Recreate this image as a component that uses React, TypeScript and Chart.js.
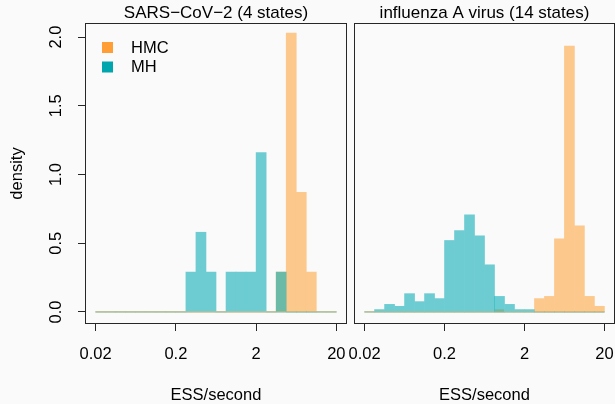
import React, { useEffect, useRef } from 'react';
import { Chart, registerables } from 'chart.js';

Chart.register(...registerables);

// ---- data -----------------------------------------------------------------
const X_MIN = 0.02; // first histogram break (ESS/second)
const X_MAX = 20; // last histogram break
const N_BINS = 24; // equal-width bins on log scale
const Y_LIMIT = 2.015; // upper y limit before R's 4% extension

const xTickValues = [0.02, 0.2, 2, 20];
const xTickLabels = ['0.02', '0.2', '2', '20'];
const yTickValues = [0, 0.5, 1, 1.5, 2];
const yTickLabels = ['0.0', '0.5', '1.0', '1.5', '2.0'];

const panelTitles = ['SARS\u2212CoV\u22122 (4 states)', 'influenza A virus (14 states)'];
const seriesNames = ['HMC', 'MH'];
const xAxisTitle = 'ESS/second';
const yAxisTitle = 'density';

// densities per bin (24 bins)
const sarsHMC = [0, 0, 0, 0, 0, 0, 0, 0, 0, 0, 0, 0, 0, 0, 0, 0, 0, 0, 0.29, 2.03, 0.87, 0.29, 0, 0];
const sarsMH = [0, 0, 0, 0, 0, 0, 0, 0, 0, 0.29, 0.58, 0.29, 0, 0.29, 0.29, 0.29, 1.16, 0, 0.29, 0, 0, 0, 0, 0];
const fluHMC = [0, 0, 0, 0, 0, 0, 0, 0, 0, 0, 0, 0, 0, 0.017, 0, 0, 0, 0.097, 0.113, 0.532, 1.935, 0.626, 0.113, 0.041];
const fluMH = [0, 0.017, 0.055, 0.041, 0.133, 0.075, 0.133, 0.097, 0.52, 0.592, 0.706, 0.554, 0.343, 0.113, 0.055, 0.017, 0.017, 0, 0, 0, 0, 0, 0, 0];

// ---- styles ---------------------------------------------------------------
const FONT = '"Liberation Sans", Arial, Helvetica, sans-serif';
const BG = '#fafafa';
const INK = '#000000';
const AXIS = '#262626';
const HMC_SOLID = 'rgb(255,158,52)';
const MH_SOLID = 'rgb(0,166,174)';
const HMC_FILL = 'rgb(252,200,140)'; // 60% orange over background
const MH_FILL = 'rgb(108,204,210)'; // 60% teal over background
const MH_FILL_ALPHA = 'rgba(10,175,185,0.6)'; // used where bars overlap

const LO = Math.log10(X_MIN);
const HI = Math.log10(X_MAX);
const BW = (HI - LO) / N_BINS;
const EXT_X = (HI - LO) * 0.04;
const EXT_Y = Y_LIMIT * 0.04;

const toPoints = (arr: number[]) => arr.map((v, k) => ({ x: LO + (k + 0.5) * BW, y: v }));

const boxPlugin = {
  id: 'rbox',
  afterDatasetsDraw(chart: any) {
    const { ctx, chartArea: a } = chart;
    ctx.save();
    ctx.strokeStyle = AXIS;
    ctx.lineWidth = 1;
    ctx.strokeRect(Math.round(a.left) - 0.5, Math.round(a.top) - 0.5, Math.round(a.right - a.left) + 1, Math.round(a.bottom - a.top) + 1);
    ctx.restore();
  },
};

const yLabelPlugin = {
  id: 'ylabels',
  afterDraw(chart: any) {
    const { ctx } = chart;
    const ys = chart.scales.y;
    ctx.save();
    ctx.fillStyle = INK;
    ctx.font = `16.5px ${FONT}`;
    ctx.textAlign = 'center';
    ctx.textBaseline = 'middle';
    yTickValues.forEach((v, i) => {
      const y = ys.getPixelForValue(v);
      ctx.save();
      ctx.translate(56, y);
      ctx.rotate(-Math.PI / 2);
      ctx.fillText(yTickLabels[i], 0, 0);
      ctx.restore();
    });
    ctx.restore();
  },
};

const legendPlugin = {
  id: 'rlegend',
  afterDraw(chart: any) {
    const { ctx, chartArea: a } = chart;
    const cols = [HMC_SOLID, MH_SOLID];
    ctx.save();
    ctx.font = `16.5px ${FONT}`;
    ctx.textAlign = 'left';
    ctx.textBaseline = 'middle';
    seriesNames.forEach((name, i) => {
      const top = a.top + 18 + i * 19.5;
      ctx.fillStyle = cols[i];
      ctx.fillRect(a.left + 16, top, 11, 11);
      ctx.fillStyle = INK;
      ctx.fillText(name, a.left + 45, top + 6);
    });
    ctx.restore();
  },
};

function makeChart(canvas: HTMLCanvasElement, hmc: number[], mh: number[], title: string, left: boolean) {
  const baseline = [
    { x: LO, y: 0 },
    { x: HI, y: 0 },
  ];
  const plugins: any[] = [boxPlugin];
  if (left) plugins.push(yLabelPlugin, legendPlugin);
  return new Chart(canvas, {
    type: 'bar',
    data: {
      datasets: [
        { type: 'line', label: 'MH0', data: baseline, borderColor: 'rgba(10,160,170,0.7)', borderWidth: 1, pointRadius: 0, order: 4 } as any,
        { type: 'bar', label: 'HMC', data: toPoints(hmc), backgroundColor: HMC_FILL, borderWidth: 0, grouped: false, barPercentage: 1, categoryPercentage: 1, order: 3 } as any,
        {
          type: 'bar',
          label: 'MH',
          data: toPoints(mh),
          backgroundColor: (c: any) => (hmc[c.dataIndex] > 0 ? MH_FILL_ALPHA : MH_FILL),
          borderWidth: 0,
          grouped: false,
          barPercentage: 1,
          categoryPercentage: 1,
          order: 2,
        } as any,
        { type: 'line', label: 'HMC0', data: baseline, borderColor: 'rgba(255,165,64,0.45)', borderWidth: 1, pointRadius: 0, order: 1 } as any,
      ],
    },
    options: {
      animation: false,
      responsive: false,
      devicePixelRatio: 1,
      events: [],
      layout: { padding: left ? { left: 0, right: 4, top: 0, bottom: 0 } : { left: 15, right: 11, top: 0, bottom: 0 } },
      plugins: {
        legend: { display: false },
        tooltip: { enabled: false },
        title: {
          display: true,
          text: title,
          fullSize: false,
          color: INK,
          font: { family: FONT, size: 17, weight: 'normal', lineHeight: 1.2 },
          padding: { top: 3, bottom: 0.6 },
        },
      },
      scales: {
        x: {
          type: 'linear',
          min: LO - EXT_X,
          max: HI + EXT_X,
          offset: false,
          afterBuildTicks: (s: any) => {
            s.ticks = xTickValues.map((v) => ({ value: Math.log10(v) }));
          },
          afterFit: (s: any) => {
            s.height = 81;
            s.paddingLeft = 0;
            s.paddingRight = 0;
          },
          ticks: {
            autoSkip: false,
            maxRotation: 0,
            minRotation: 0,
            padding: 14,
            color: INK,
            font: { family: FONT, size: 16.5 },
            callback: (_v: any, i: number) => xTickLabels[i],
          },
          grid: { offset: false, drawOnChartArea: false, drawTicks: true, tickLength: 8, color: AXIS, lineWidth: 1 },
          border: { display: false },
          title: { display: true, text: xAxisTitle, color: INK, font: { family: FONT, size: 16.5 }, padding: { top: 0, bottom: -1 } },
        },
        y: {
          type: 'linear',
          display: left,
          min: -EXT_Y,
          max: Y_LIMIT + EXT_Y,
          afterBuildTicks: (s: any) => {
            s.ticks = yTickValues.map((v) => ({ value: v }));
          },
          afterFit: (s: any) => {
            s.width = left ? 86 : 0;
          },
          ticks: { display: false },
          grid: { offset: false, drawOnChartArea: false, drawTicks: true, tickLength: 8, color: AXIS, lineWidth: 1 },
          border: { display: false },
          title: { display: true, text: yAxisTitle, color: INK, font: { family: FONT, size: 16.5 }, padding: { top: 8, bottom: 0 } },
        },
      },
    } as any,
    plugins,
  });
}

export default function App() {
  const leftRef = useRef<HTMLCanvasElement>(null);
  const rightRef = useRef<HTMLCanvasElement>(null);

  useEffect(() => {
    const c1 = makeChart(leftRef.current!, sarsHMC, sarsMH, panelTitles[0], true);
    const c2 = makeChart(rightRef.current!, fluHMC, fluMH, panelTitles[1], false);
    return () => {
      c1.destroy();
      c2.destroy();
    };
  }, []);

  return (
    <div style={{ position: 'fixed', left: 0, top: 0, width: 615, height: 404, background: BG, overflow: 'hidden' }}>
      <canvas ref={leftRef} width={350} height={404} style={{ position: 'absolute', left: 0, top: 0, width: 350, height: 404 }} />
      <canvas ref={rightRef} width={285} height={404} style={{ position: 'absolute', left: 340, top: 0, width: 285, height: 404 }} />
    </div>
  );
}
